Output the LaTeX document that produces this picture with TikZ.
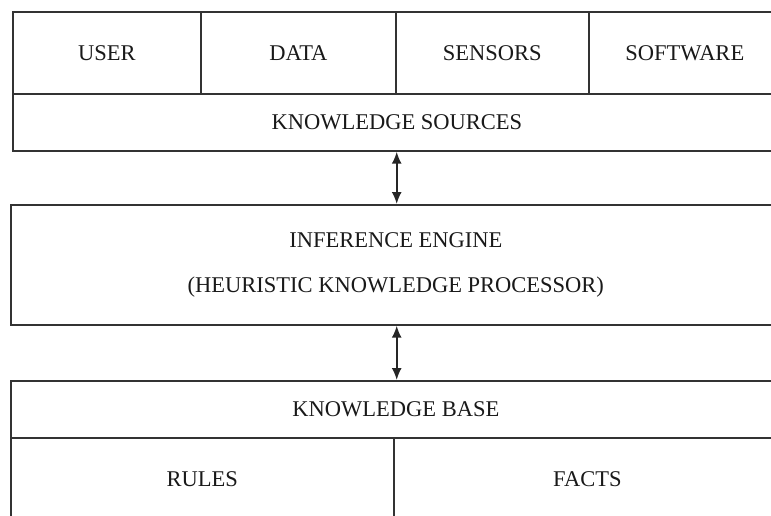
\documentclass[tikz,border=0pt]{standalone}
\usepackage{fontspec}
\setmainfont{Liberation Serif}
\usetikzlibrary{arrows.meta}
\begin{document}
\begin{tikzpicture}[x=1pt,y=-1pt,
  box/.style={draw=black!80,line width=1.7pt,rectangle,inner sep=0pt,anchor=north west,
    font=\fontsize{22.5}{45}\selectfont,text=black!90,align=center},
  arr/.style={{Latex[length=12pt,width=10pt]}-{Latex[length=12pt,width=10pt]},line width=1.7pt,draw=black!85}]
\useasboundingbox (0,0) rectangle (771,515);
\clip (0,0) rectangle (771,515);
% knowledge sources
\node[box,minimum width=188pt,minimum height=82pt] (user) at (12,11) {USER};
\node[box,minimum width=195pt,minimum height=82pt] (data) at (200,11) {DATA};
\node[box,minimum width=193pt,minimum height=82pt] (sensors) at (395,11) {SENSORS};
\node[box,minimum width=192pt,minimum height=82pt] (software) at (588,11) {SOFTWARE};
\node[box,minimum width=768pt,minimum height=57pt] (ks) at (12,93) {KNOWLEDGE SOURCES};
% inference engine
\node[box,minimum width=770pt,minimum height=120pt] (ie) at (10,204) {INFERENCE ENGINE\\(HEURISTIC KNOWLEDGE PROCESSOR)};
% knowledge base
\node[box,minimum width=770pt,minimum height=57pt] (kb) at (10,380) {KNOWLEDGE BASE};
\node[box,minimum width=383pt,minimum height=82pt] (rules) at (10,437) {RULES};
\node[box,minimum width=387pt,minimum height=82pt] (facts) at (393,437) {FACTS};
% arrows
\draw[arr] (ks.south -| data.east) -- (ie.north -| data.east);
\draw[arr] (ie.south -| data.east) -- (kb.north -| data.east);
\end{tikzpicture}
\end{document}
